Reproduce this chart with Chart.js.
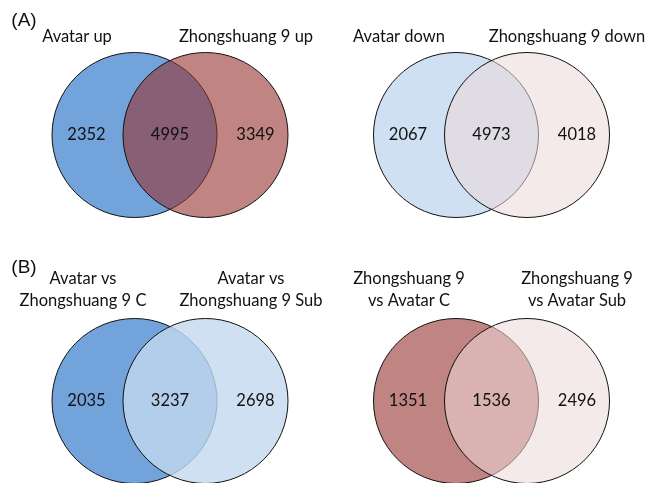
<!DOCTYPE html>
<html>
<head>
<meta charset="utf-8">
<script src="https://cdn.jsdelivr.net/npm/chart.js@4"></script>
<style>
    body { margin: 0; background: #fff; }
    #wrap { position: relative; width: 649px; height: 483px; }
</style>
</head>
<body>
<div id="wrap"><canvas id="chart"></canvas></div>
<script>
// data, one entry per venn: A up, A down, B Avatar, B Zhongshuang 9
var leftNames = [['Avatar up'], ['Avatar down'], ['Avatar vs', 'Zhongshuang 9 C'], ['Zhongshuang 9', 'vs Avatar C']]
var rightNames = [['Zhongshuang 9 up'], ['Zhongshuang 9 down'], ['Avatar vs', 'Zhongshuang 9 Sub'], ['Zhongshuang 9', 'vs Avatar Sub']]
var leftOnly = [2352, 2067, 2035, 1351]
var shared = [4995, 4973, 3237, 1536]
var rightOnly = [3349, 4018, 2698, 2496]
var panelTags = ['(A)', '(B)']

// layout (chart units == canvas px)
var vennCenters = [[170, 135], [491.5, 135], [170, 401], [491.5, 401]]
var halfGap = 35.5
var radius = 82.5
var numOffset = [-48, 50]
var nameX = [[77, 246], [399, 567], [83, 251], [409, 577]]
var nameY = [[37], [37], [279, 301], [279, 301]]
var tagPos = [[24, 21], [24, 268]]

// styles
var leftFill = ['rgb(115,163,219)', 'rgb(207,224,242)', 'rgb(115,163,219)', 'rgb(192,132,130)']
var rightFill = ['rgba(150,50,47,0.6)', 'rgba(237,217,217,0.55)', 'rgba(195,216,239,0.8)', 'rgba(237,217,217,0.55)']

var datasets = []
vennCenters.forEach(function(c, i) {
    datasets.push({
        data: [{ x: c[0] - halfGap, y: c[1], r: radius }],
        backgroundColor: leftFill[i],
        borderColor: '#111',
        borderWidth: 1,
        order: 2,
        clip: false
    })
    datasets.push({
        data: [{ x: c[0] + halfGap, y: c[1], r: radius }],
        backgroundColor: rightFill[i],
        borderColor: '#111',
        borderWidth: 1,
        order: 1,
        clip: false
    })
})

var textPlugin = {
    id: 'vennText',
    afterDatasetsDraw(chart) {
        var ctx = chart.ctx
        var xs = chart.scales.x, ys = chart.scales.y
        ctx.save()
        ctx.fillStyle = '#111'
        ctx.textAlign = 'center'
        ctx.textBaseline = 'middle'
        ctx.font = '16.5px Lato'
        vennCenters.forEach(function(c, i) {
            var cy = ys.getPixelForValue(c[1])
            ctx.fillText(String(leftOnly[i]), xs.getPixelForValue(c[0] - halfGap + numOffset[0]), cy)
            ctx.fillText(String(shared[i]), xs.getPixelForValue(c[0]), cy)
            ctx.fillText(String(rightOnly[i]), xs.getPixelForValue(c[0] + halfGap + numOffset[1]), cy)
            leftNames[i].forEach(function(t, k) {
                ctx.fillText(t, xs.getPixelForValue(nameX[i][0]), ys.getPixelForValue(nameY[i][k]))
            })
            rightNames[i].forEach(function(t, k) {
                ctx.fillText(t, xs.getPixelForValue(nameX[i][1]), ys.getPixelForValue(nameY[i][k]))
            })
        })
        ctx.font = '19px "Liberation Sans"'
        panelTags.forEach(function(t, i) {
            ctx.fillText(t, xs.getPixelForValue(tagPos[i][0]), ys.getPixelForValue(tagPos[i][1]))
        })
        ctx.restore()
    }
}

new Chart(document.getElementById('chart'), {
    type: 'bubble',
    data: { datasets: datasets },
    options: {
        responsive: true,
        maintainAspectRatio: false,
        animation: false,
        layout: { padding: 0, autoPadding: false },
        plugins: { legend: { display: false }, tooltip: { enabled: false } },
        scales: {
            x: { type: 'linear', min: 0, max: 649, display: false },
            y: { type: 'linear', min: 0, max: 483, reverse: true, display: false }
        }
    },
    plugins: [textPlugin]
})
</script>
</body>
</html>
